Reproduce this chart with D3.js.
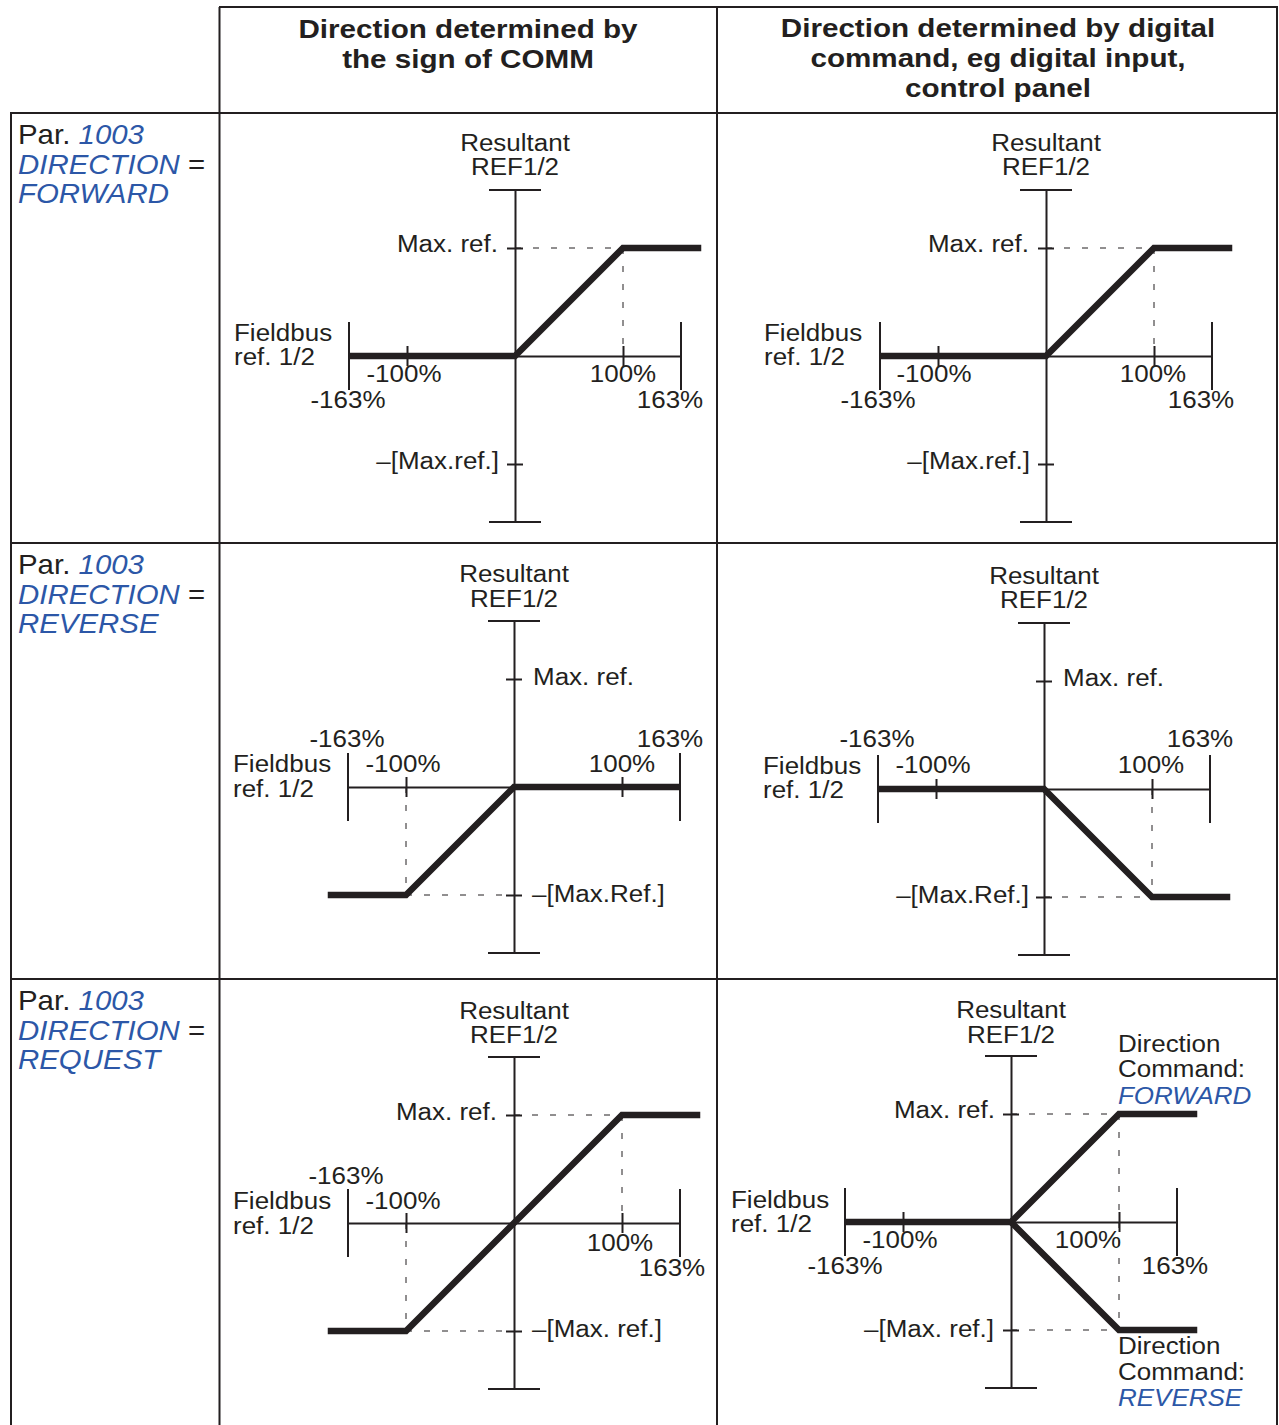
<!DOCTYPE html>
<html><head><meta charset="utf-8">
<script src="https://cdn.jsdelivr.net/npm/d3@7"></script>
<style>
body{margin:0;background:#fff}
svg{display:block}
text{font-family:"Liberation Sans",Arial,Helvetica,sans-serif;fill:#231f20}
</style>
</head><body>
<svg id="c" width="1279" height="1425"></svg>
<script>
// ---------- data ----------
const headerCol2 = ["Direction determined by", "the sign of COMM"];
const headerCol3 = ["Direction determined by digital", "command, eg digital input,", "control panel"];
const rowModes = ["FORWARD", "REVERSE", "REQUEST"];
const axisBreaks = [-163, -100, 0, 100, 163];       // fieldbus ref. 1/2 (%) and resultant ref (% of max)
const xTickValues = [-100, 100];
const yTickValues = [-100, 100];
// curves: [fieldbus ref %, resultant ref % of max.ref]
const curveForward        = [[-163, 0], [0, 0], [100, 100], [185, 100]];
const curveReverse        = [[-185, -100], [-100, -100], [0, 0], [163, 0]];
const curveDigitalReverse = [[-163, 0], [0, 0], [100, -100], [185, -100]];
const curveRequest        = [[-185, -100], [-100, -100], [100, 100], [185, 100]];
const curveCmdForward     = [[-163, 0], [0, 0], [100, 100], [185, 100]];
const curveCmdReverse     = [[0, 0], [100, -100], [185, -100]];
// dashed guide segments
const guidesForward  = [[[0, 100], [100, 100]], [[100, 100], [100, 0]]];
const guidesReverse  = [[[-100, 0], [-100, -100]], [[-100, -100], [0, -100]]];
const guidesDigRev   = [[[100, 0], [100, -100]], [[0, -100], [100, -100]]];
const guidesRequest  = [[[0, 100], [100, 100]], [[100, 100], [100, 0]], [[-100, 0], [-100, -100]], [[-100, -100], [0, -100]]];
const guidesCmd      = [[[0, 100], [100, 100]], [[100, 100], [100, -100]], [[0, -100], [100, -100]]];

// ---------- layout ----------
const INK = "#231f20", BLUE = "#2c57a7";
const SX = 1.13;            // horizontal stretch of the original artwork
const FS = 23;
const U = 108, E = 166;     // px for 100 % and for the axis end
const pxBreaks = [-E, -U, 0, U, E];

const svg = d3.select("#c");
svg.append("rect").attr("width", 1279).attr("height", 1425).attr("fill", "#fff");

// table grid
const grid = svg.append("g").attr("stroke", INK).attr("stroke-width", 2);
[[219, 7, 1278, 7], [10, 113, 1278, 113], [10, 543, 1278, 543], [10, 979, 1278, 979],
 [11, 113, 11, 1425], [219.5, 7, 219.5, 1425], [717, 7, 717, 1425], [1277, 7, 1277, 1425]]
 .forEach(l => grid.append("line").attr("x1", l[0]).attr("y1", l[1]).attr("x2", l[2]).attr("y2", l[3]));

function txt(g, s, x, y, opt = {}) {
  const t = g.append("text")
    .attr("transform", `translate(${x},${y}) scale(${opt.sx || SX},1)`)
    .attr("text-anchor", opt.anchor || "start")
    .attr("font-size", opt.fs || FS)
    .text(s);
  if (opt.bold) t.attr("font-weight", "bold");
  if (opt.blue) t.style("fill", BLUE).attr("font-style", "italic");
  return t;
}

// headers
headerCol2.forEach((s, i) => txt(svg, s, 468, 38 + i * 30, {anchor: "middle", bold: true, fs: 26, sx: 1.14}));
headerCol3.forEach((s, i) => txt(svg, s, 998, 37 + i * 30, {anchor: "middle", bold: true, fs: 26, sx: 1.14}));

// left column
const rowBase = [144, 574, 1010];
const LSX = 1.09, LFS = 27;
rowModes.forEach((m, i) => {
  const b = rowBase[i];
  const t1 = svg.append("text").attr("transform", `translate(18,${b}) scale(${LSX},1)`).attr("font-size", LFS);
  t1.append("tspan").text("Par. ");
  t1.append("tspan").text("1003").style("fill", BLUE).attr("font-style", "italic");
  const t2 = svg.append("text").attr("transform", `translate(18,${b + 29.5}) scale(${LSX},1)`).attr("font-size", LFS);
  t2.append("tspan").text("DIRECTION").style("fill", BLUE).attr("font-style", "italic");
  t2.append("tspan").text(" =");
  const t3 = svg.append("text").attr("transform", `translate(18,${b + 59}) scale(${LSX},1)`).attr("font-size", LFS);
  t3.append("tspan").text(m).style("fill", BLUE).attr("font-style", "italic");
});

// panels
const panels = [
  {cx: 515, cy: 356, curves: [curveForward], guides: guidesForward, labels: [
    ["Resultant", 0, -205, "middle"], ["REF1/2", 0, -181, "middle"],
    ["Max. ref.", -17, -104, "end"], ["\u2013[Max.ref.]", -16, 113, "end"],
    ["Fieldbus", -281, -15, "start"], ["ref. 1/2", -281, 9, "start"],
    ["-100%", -111, 26, "middle"], ["100%", 108, 26, "middle"],
    ["-163%", -167, 52, "middle"], ["163%", 155, 52, "middle"]]},
  {cx: 1046, cy: 356, curves: [curveForward], guides: guidesForward, labels: [
    ["Resultant", 0, -205, "middle"], ["REF1/2", 0, -181, "middle"],
    ["Max. ref.", -17, -104, "end"], ["\u2013[Max.ref.]", -16, 113, "end"],
    ["Fieldbus", -282, -15, "start"], ["ref. 1/2", -282, 9, "start"],
    ["-100%", -112, 26, "middle"], ["100%", 107, 26, "middle"],
    ["-163%", -168, 52, "middle"], ["163%", 155, 52, "middle"]]},
  {cx: 514, cy: 787, curves: [curveReverse], guides: guidesReverse, labels: [
    ["Resultant", 0, -205, "middle"], ["REF1/2", 0, -180, "middle"],
    ["Max. ref.", 19, -102, "start"], ["\u2013[Max.Ref.]", 18, 115, "start"],
    ["Fieldbus", -281, -15, "start"], ["ref. 1/2", -281, 10, "start"],
    ["-163%", -167, -40, "middle"], ["163%", 156, -40, "middle"],
    ["-100%", -111, -15, "middle"], ["100%", 108, -15, "middle"]]},
  {cx: 1044, cy: 789, curves: [curveDigitalReverse], guides: guidesDigRev, labels: [
    ["Resultant", 0, -205, "middle"], ["REF1/2", 0, -181, "middle"],
    ["Max. ref.", 19, -103, "start"], ["\u2013[Max.Ref.]", -15, 114, "end"],
    ["Fieldbus", -281, -15, "start"], ["ref. 1/2", -281, 9, "start"],
    ["-163%", -167, -42, "middle"], ["163%", 156, -42, "middle"],
    ["-100%", -111, -16, "middle"], ["100%", 107, -16, "middle"]]},
  {cx: 514, cy: 1223, curves: [curveRequest], guides: guidesRequest, labels: [
    ["Resultant", 0, -204, "middle"], ["REF1/2", 0, -180, "middle"],
    ["Max. ref.", -17, -103, "end"], ["\u2013[Max. ref.]", 18, 114, "start"],
    ["Fieldbus", -281, -14, "start"], ["ref. 1/2", -281, 11, "start"],
    ["-163%", -168, -39, "middle"], ["-100%", -111, -14, "middle"],
    ["100%", 106, 28, "middle"], ["163%", 158, 53, "middle"]]},
  {cx: 1011, cy: 1222, curves: [curveCmdForward, curveCmdReverse], guides: guidesCmd, labels: [
    ["Resultant", 0, -204, "middle"], ["REF1/2", 0, -179, "middle"],
    ["Max. ref.", -16, -104, "end"], ["\u2013[Max. ref.]", -17, 115, "end"],
    ["Fieldbus", -280, -14, "start"], ["ref. 1/2", -280, 10, "start"],
    ["-100%", -111, 26, "middle"], ["-163%", -166, 52, "middle"],
    ["100%", 77, 26, "middle"], ["163%", 164, 52, "middle"],
    ["Direction", 107, -170, "start"], ["Command:", 107, -145, "start"], ["FORWARD", 107, -118, "start", true],
    ["Direction", 107, 132, "start"], ["Command:", 107, 158, "start"], ["REVERSE", 107, 184, "start", true]]}
];

panels.forEach(p => {
  const x = d3.scaleLinear().domain(axisBreaks).range(pxBreaks.map(d => p.cx + d));
  const y = d3.scaleLinear().domain(axisBreaks).range(pxBreaks.map(d => p.cy - d));
  const g = svg.append("g");

  // dashed guides
  const line = d3.line().x(d => x(d[0])).y(d => y(d[1]));
  g.selectAll(null).data(p.guides).join("path")
    .attr("d", line).attr("fill", "none").attr("stroke", INK)
    .attr("stroke-width", 1).attr("stroke-dasharray", "6,12");

  // horizontal axis
  const xa = g.append("g").attr("transform", `translate(0,${p.cy})`)
    .call(d3.axisBottom(x).tickValues(xTickValues).tickSizeOuter(0).tickSizeInner(10).tickFormat(""));
  xa.select(".domain").attr("stroke", INK).attr("stroke-width", 2);
  xa.selectAll(".tick line").attr("y1", -10).attr("y2", 10).attr("stroke", INK).attr("stroke-width", 2);

  // vertical axis
  const ya = g.append("g").attr("transform", `translate(${p.cx},0)`)
    .call(d3.axisLeft(y).tickValues(yTickValues).tickSizeOuter(0).tickSizeInner(8).tickFormat(""));
  ya.select(".domain").attr("stroke", INK).attr("stroke-width", 2);
  ya.selectAll(".tick line").attr("x1", -8).attr("x2", 8).attr("stroke", INK).attr("stroke-width", 2);

  // end marks
  const ends = g.append("g").attr("stroke", INK).attr("stroke-width", 2);
  [-163, 163].forEach(v => {
    ends.append("line").attr("x1", x(v)).attr("x2", x(v)).attr("y1", p.cy - 34).attr("y2", p.cy + 34);
    ends.append("line").attr("y1", y(v)).attr("y2", y(v)).attr("x1", p.cx - 26).attr("x2", p.cx + 26);
  });

  // thick characteristic
  g.selectAll(null).data(p.curves).join("path")
    .attr("d", line).attr("fill", "none").attr("stroke", INK)
    .attr("stroke-width", 6.5).attr("stroke-linejoin", "miter");

  // labels
  p.labels.forEach(l => txt(g, l[0], p.cx + l[1], p.cy + l[2], {anchor: l[3], blue: !!l[4]}));
});
</script>
</body></html>
